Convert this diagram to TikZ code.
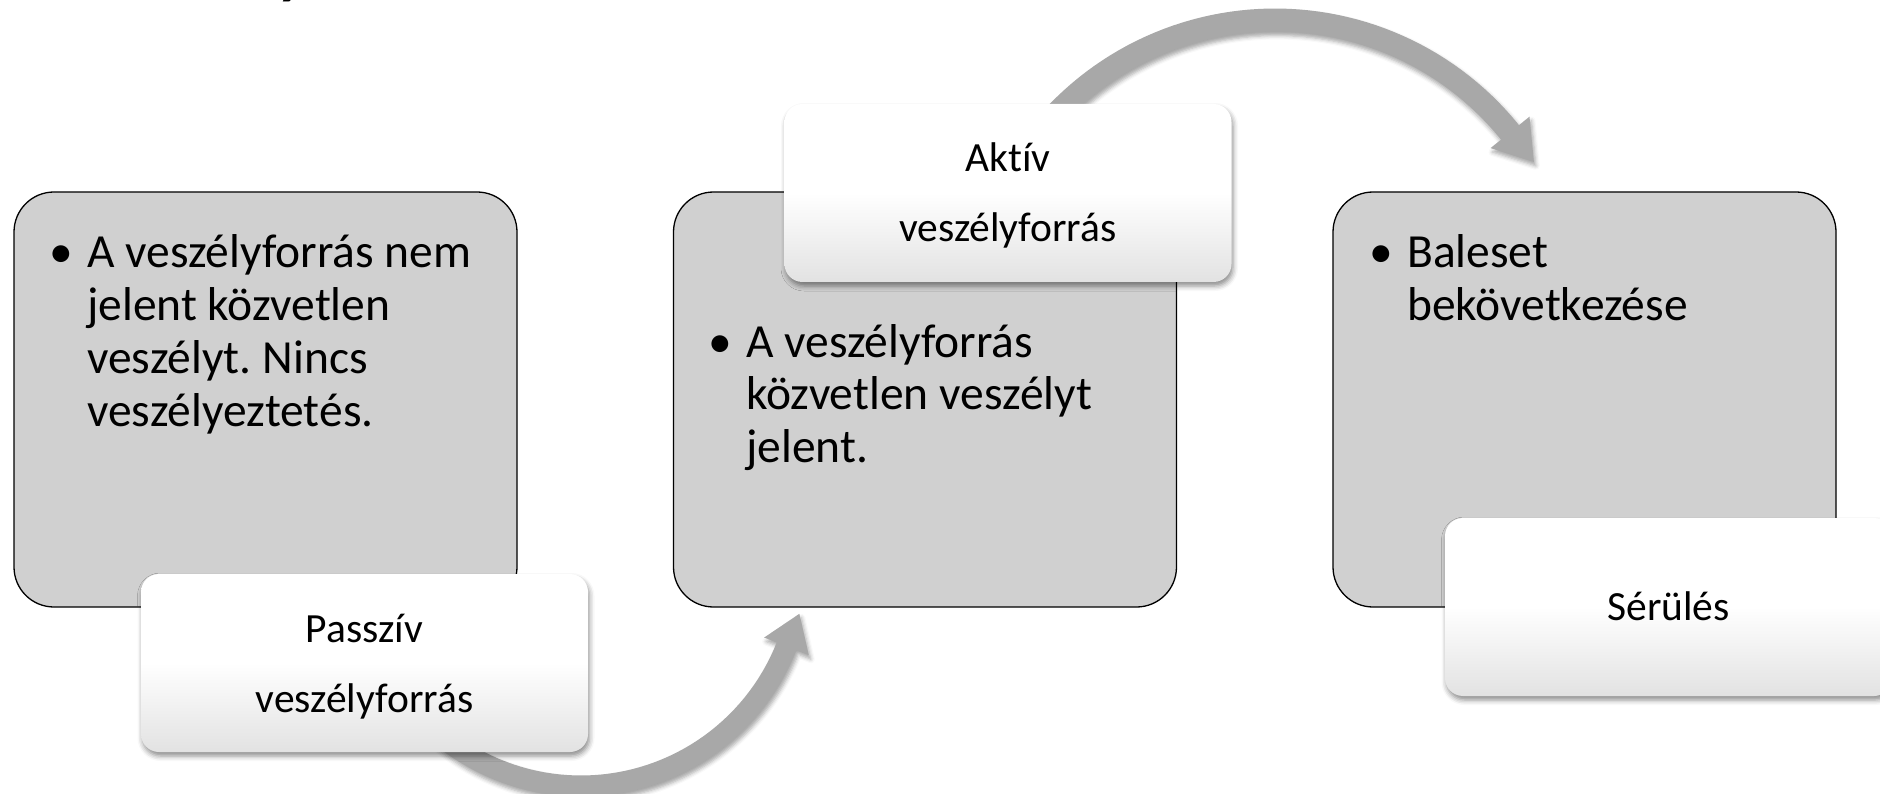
\documentclass[tikz,border=0pt]{standalone}
\usepackage{fontspec}
\setmainfont{Carlito}[Ligatures=NoCommon]
\usetikzlibrary{shadows.blur}
\frenchspacing

\definecolor{boxgray}{RGB}{208,208,208}
\definecolor{arrowgray}{RGB}{168,168,168}
\definecolor{labelbottom}{RGB}{226,226,226}

\tikzset{
  stagebox/.style={draw=black, line width=1.3pt, fill=boxgray,
    rounded corners=40pt, minimum width=503pt, minimum height=415pt, inner sep=0pt},
  labelbox/.style={top color=white, bottom color=labelbottom, middle color=white,
    rounded corners=18pt, minimum width=447pt, minimum height=178pt, inner sep=0pt,
    blur shadow={shadow xshift=1.5pt, shadow yshift=-4pt, shadow blur radius=5pt, shadow opacity=45}},
  bodytext/.style={anchor=base west, inner sep=0pt, font=\fontsize{47.5}{53}\selectfont},
  labeltext/.style={anchor=base, inner sep=0pt, font=\fontsize{41.5}{70}\selectfont},
  flowarrow/.style={fill=arrowgray, draw=none,
    blur shadow={shadow xshift=2pt, shadow yshift=-4pt, shadow blur radius=4pt, shadow opacity=35}},
}

\begin{document}
\begin{tikzpicture}[x=1pt, y=-1pt]
  \useasboundingbox (0,0) rectangle (1880,794);
  \clip (0,0) rectangle (1880,794);

  % heading above the diagram (only its descender reaches down here)
  \node[anchor=base west, inner sep=0pt, font=\fontsize{60}{60}\selectfont\bfseries] (heading) at (277,-7.5) {y};

  % the three stages
  \node[stagebox] (s1) at (265.5,399.5) {};
  \node[stagebox] (s2) at (925,399.5) {};
  \node[stagebox] (s3) at (1584.5,399.5) {};

  % lower curved arrow: from the first stage up to the second
  \path[flowarrow]
    plot[domain=150:21.6, samples=60] ({581+231.5*cos(\x)},{565+231.5*sin(\x)})
    -- ({581+245*cos(21.6)},{565+245*sin(21.6)})
    -- ({581+221*cos(21.6)+35*sin(21.6)},{565+221*sin(21.6)-35*cos(21.6)})
    -- ({581+197*cos(21.6)},{565+197*sin(21.6)})
    -- plot[domain=21.6:150, samples=60] ({581+210.5*cos(\x)},{565+210.5*sin(\x)})
    -- cycle;

  % upper curved arrow: from the second stage over to the third
  \path[flowarrow]
    plot[domain=-145:-38.9, samples=60] ({1275+313.5*cos(\x)},{322+313.5*sin(\x)})
    -- ({1275+327*cos(-38.9)},{322+327*sin(-38.9)})
    -- ({1275+302*cos(-38.9)-38*sin(-38.9)},{322+302*sin(-38.9)+38*cos(-38.9)})
    -- ({1275+277*cos(-38.9)},{322+277*sin(-38.9)})
    -- plot[domain=-38.9:-145, samples=60] ({1275+290.5*cos(\x)},{322+290.5*sin(\x)})
    -- cycle;

  % labels on the stages
  \node[labelbox] (l1) at (364.5,663) {};
  \node[labelbox] (l2) at (1008,193) {};
  \node[labelbox] (l3) at (1668.5,607) {};

  % stage texts
  \node[bodytext] (t1) at (87,268) {\parbox[t]{420pt}{\raggedright\leavevmode\llap{•\hspace{14pt}}A veszélyforrás nem\\jelent közvetlen\\veszélyt. Nincs\\veszélyeztetés.}};
  \node[bodytext] (t2) at (746,357) {\parbox[t]{420pt}{\raggedright\leavevmode\llap{•\hspace{14pt}}A veszélyforrás\\közvetlen veszélyt\\jelent.}};
  \node[bodytext] (t3) at (1407,268) {\parbox[t]{420pt}{\raggedright\leavevmode\llap{•\hspace{14pt}}Baleset\\bekövetkezése}};

  % label texts
  \node[labeltext] (lt1) at (364.5,642) {\parbox[t]{440pt}{\centering Passzív\\veszélyforrás}};
  \node[labeltext] (lt2) at (1008,172) {\parbox[t]{440pt}{\centering Aktív\\veszélyforrás}};
  \node[labeltext] (lt3) at (1668.5,620) {Sérülés};
\end{tikzpicture}
\end{document}
